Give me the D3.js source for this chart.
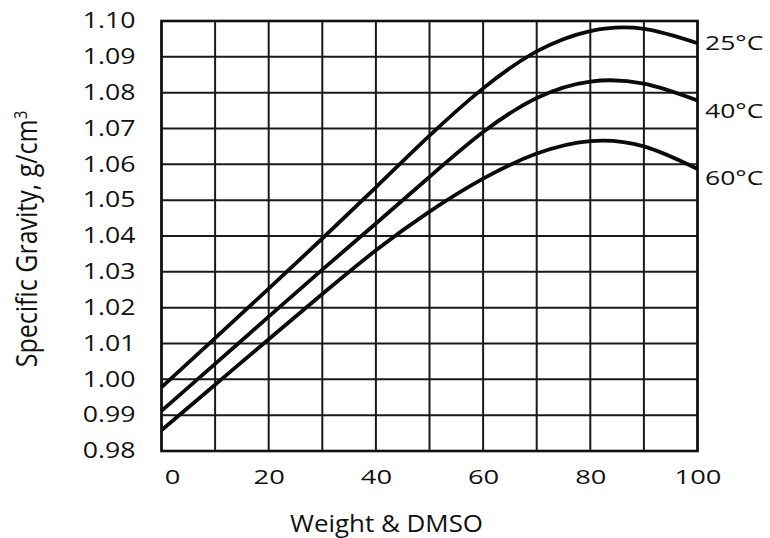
<!DOCTYPE html>
<html>
<head>
<meta charset="utf-8">
<script src="https://cdn.jsdelivr.net/npm/d3@7/dist/d3.min.js"></script>
<style>
  html, body { margin: 0; padding: 0; background: #fff; }
  svg { display: block; }
  text { font-family: "Open Sans", "Noto Sans", sans-serif; fill: #111; }
</style>
</head>
<body>
<svg id="chart" width="770" height="538"></svg>
<script>
// ---- data ----
const xValues = [0, 10, 20, 30, 40, 50, 60, 70, 80, 90, 100];
const sg25 = [0.9978, 1.0115, 1.0253, 1.0393, 1.0536, 1.0680, 1.0812, 1.0915, 1.0972, 1.0978, 1.0938];
const sg40 = [0.9912, 1.0043, 1.0175, 1.0306, 1.0435, 1.0565, 1.0690, 1.0785, 1.0831, 1.0825, 1.0778];
const sg60 = [0.9858, 0.9985, 1.0112, 1.0238, 1.0360, 1.0468, 1.0560, 1.0630, 1.0665, 1.0650, 1.0587];
const seriesNames = ["25°C", "40°C", "60°C"];
const xTickLabels = [0, 20, 40, 60, 80, 100];
const yTickLabels = [0.98, 0.99, 1.00, 1.01, 1.02, 1.03, 1.04, 1.05, 1.06, 1.07, 1.08, 1.09, 1.10];
const xGridValues = [0, 10, 20, 30, 40, 50, 60, 70, 80, 90, 100];
const xTitle = "Weight & DMSO";
const yTitle = "Specific Gravity, g/cm";

// ---- layout ----
const svg = d3.select("#chart");
const x = d3.scaleLinear().domain([0, 100]).range([161.5, 697.5]);
const y = d3.scaleLinear().domain([0.98, 1.10]).range([451, 21]);

// grid
const grid = svg.append("g");
grid.selectAll("line.v").data(xGridValues).join("line")
  .attr("x1", d => x(d)).attr("x2", d => x(d))
  .attr("y1", y(1.10)).attr("y2", y(0.98))
  .attr("stroke", "#1a1a1a").attr("stroke-width", 2);
grid.selectAll("line.h").data(yTickLabels).join("line")
  .attr("x1", x(0)).attr("x2", x(100))
  .attr("y1", d => y(d)).attr("y2", d => y(d))
  .attr("stroke", "#1a1a1a").attr("stroke-width", 2);
svg.append("rect")
  .attr("x", x(0)).attr("y", y(1.10))
  .attr("width", x(100) - x(0)).attr("height", y(0.98) - y(1.10))
  .attr("fill", "none").attr("stroke", "#111").attr("stroke-width", 2.6);

// axes (labels only)
const yAxis = svg.append("g").attr("transform", `translate(${x(0)},0)`)
  .call(d3.axisLeft(y).tickValues(yTickLabels).tickFormat(d3.format(".2f")).tickSize(0).tickPadding(26));
yAxis.select(".domain").remove();
yAxis.selectAll("text").style("font-size", "21px").style("font-family", "Open Sans");

const xAxis = svg.append("g").attr("transform", `translate(0,${y(0.98)})`)
  .call(d3.axisBottom(x).tickValues(xTickLabels).tickFormat(d3.format("d")).tickSize(0).tickPadding(19));
xAxis.select(".domain").remove();
xAxis.selectAll("text").style("font-size", "19.5px").style("font-family", "Open Sans")
  .attr("dx", d => d === 0 ? 10.5 : 0);

// stretch glyphs horizontally like the reference
function stretch(sel, f) {
  sel.each(function () {
    const w = this.getComputedTextLength();
    d3.select(this).attr("textLength", w * f).attr("lengthAdjust", "spacingAndGlyphs");
  });
}
stretch(yAxis.selectAll("text"), 1.27);
stretch(xAxis.selectAll("text"), 1.4);

// curves
const seriesData = [sg25, sg40, sg60];
const line = d3.line()
  .x((d, i) => x(xValues[i]))
  .y(d => y(d))
  .curve(d3.curveNatural);
svg.append("g").selectAll("path").data(seriesData).join("path")
  .attr("d", line)
  .attr("fill", "none")
  .attr("stroke", "#0a0a0a")
  .attr("stroke-width", 3.8)
  .attr("stroke-linecap", "butt");

// series labels
const labelOffsets = [0, 10, 9];
const sLabels = svg.append("g").selectAll("text").data(seriesData).join("text")
  .attr("x", 705)
  .attr("y", (d, i) => y(d[d.length - 1]) + labelOffsets[i])
  .attr("dy", "0.36em")
  .style("font-size", "19.5px")
  .text((d, i) => seriesNames[i]);
stretch(sLabels, 1.36);

// titles
const xt = svg.append("text")
  .attr("x", 386.5).attr("y", 532)
  .attr("text-anchor", "middle")
  .style("font-size", "24px")
  .text(xTitle);
xt.attr("textLength", 193).attr("lengthAdjust", "spacingAndGlyphs");

const yt = svg.append("text")
  .attr("transform", "translate(37,239) scale(1.2,1) rotate(-90)")
  .attr("text-anchor", "middle")
  .style("font-size", "25px")
  .text(yTitle);
yt.append("tspan").attr("dy", "-0.55em").style("font-size", "15px").text("3");
</script>
</body>
</html>
